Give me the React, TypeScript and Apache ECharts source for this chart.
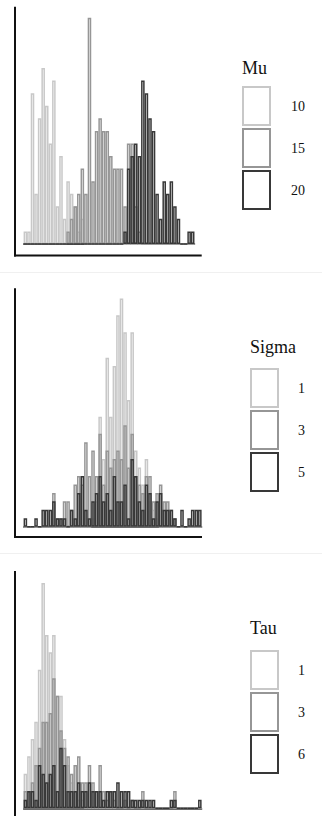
import React, { useEffect, useRef } from "react";
import * as echarts from "echarts";

// ---------- data (bin counts) ----------
const MU_TITLE = "Mu";
const MU_LABELS = ["10", "15", "20"];
const MU_10 = [1,1,12,4,10,14,11,8,13,3,7,2,5,4,3,1,2,0,0,0,0,0,0,0,0,0,0,0,0,0,0,0,0,0,0,0,0,0,0,0,0,0,0,0,0,0,0,0];
const MU_15 = [0,0,0,0,0,0,0,0,0,0,0,0,1,2,3,4,6,4,18,5,9,10,9,9,7,6,6,6,3,8,8,3,1,0,0,0,0,0,0,0,0,0,0,0,0,0,0,0];
const MU_20 = [0,0,0,0,0,0,0,0,0,0,0,0,0,0,0,0,0,0,0,0,0,0,0,0,0,0,0,0,1,6,7,8,7,13,12,10,9,4,2,5,4,5,3,2,0,0,1,1];

const SIGMA_TITLE = "Sigma";
const SIGMA_LABELS = ["1", "3", "5"];
const SIGMA_1 = [0,0,0,0,0,0,0,0,0,0,0,0,0,0,0,0,0,0,0,1,3,13,8,20,13,19,25,27,23,15,23,9,7,5,8,3,2,1,0,0,0,0,0,0,0,0,0,0,0,0];
const SIGMA_3 = [0,0,0,0,0,0,0,0,4,1,1,3,3,2,5,6,5,10,6,9,6,11,5,9,7,8,9,8,12,7,11,6,5,4,6,6,3,4,5,3,3,2,1,0,0,0,0,0,0,0];
const SIGMA_5 = [1,0,0,1,0,2,2,2,3,1,1,1,0,2,1,4,6,2,1,3,4,6,3,4,2,6,3,3,5,1,8,6,3,2,5,4,1,3,4,2,2,2,1,0,2,0,1,2,2,2];

const TAU_TITLE = "Tau";
const TAU_LABELS = ["1", "3", "6"];
const TAU_1 = [4,6,8,10,16,26,20,18,20,13,13,8,5,3,2,1,1,0,0,0,0,0,0,0,0,0,0,0,0,0,0,0,0,0,0,0,0,0,0,0,0,0,0,0,0,0,0,0,0,0];
const TAU_3 = [2,2,3,5,7,10,10,11,15,13,9,7,6,4,5,6,3,3,5,3,2,5,2,1,2,1,0,0,1,0,1,0,0,2,0,0,0,0,0,0,0,0,2,0,0,0,0,0,0,0];
const TAU_6 = [1,2,2,1,5,4,3,4,5,2,7,5,2,2,2,3,2,2,3,2,2,2,1,2,2,2,3,2,2,2,1,1,1,1,1,1,1,0,0,0,0,1,1,0,0,0,0,0,0,1];

const Y_MAX = [19, 28, 27];

const LIGHT = "#c8c8c8";
const MID = "#969696";
const DARK = "#383838";
const SERIF = "'Liberation Serif', 'DejaVu Serif', serif";

export default function App() {
  const ref = useRef<HTMLDivElement>(null);

  useEffect(() => {
    if (!ref.current) return;
    document.body.style.margin = "0";
    const chart = echarts.init(ref.current, undefined, { renderer: "svg" });

    const panels = [
      { title: MU_TITLE, labels: MU_LABELS, data: [MU_10, MU_15, MU_20] },
      { title: SIGMA_TITLE, labels: SIGMA_LABELS, data: [SIGMA_1, SIGMA_3, SIGMA_5] },
      { title: TAU_TITLE, labels: TAU_LABELS, data: [TAU_1, TAU_3, TAU_6] },
    ];
    const colors = [LIGHT, MID, DARK];
    const binW = 3.56;
    const left = 23.6;
    const grids = [
      { top: 5.2, bottom: 244 },
      { top: 290, bottom: 526.7 },
      { top: 574.3, bottom: 808.3 },
    ];
    const legendPos = [
      { left: 242, top: 86, titleTop: 59, textPad: 16 },
      { left: 250, top: 368, titleTop: 338, textPad: 15 },
      { left: 250, top: 650, titleTop: 619, textPad: 15 },
    ];

    const series: any[] = [];
    const xAxis: any[] = [];
    const yAxis: any[] = [];
    const grid: any[] = [];
    const legend: any[] = [];
    const title: any[] = [];

    panels.forEach((p, pi) => {
      const nb = p.data[0].length;
      grid.push({
        left,
        top: grids[pi].top,
        width: nb * binW,
        height: grids[pi].bottom - grids[pi].top,
        containLabel: false,
      });
      xAxis.push({
        type: "category",
        gridIndex: pi,
        data: p.data[0].map((_, i) => String(i)),
        boundaryGap: true,
        axisLine: { show: true, lineStyle: { color: "#3a3a3a", width: 1.5 } },
        axisTick: { show: false },
        axisLabel: { show: false },
        splitLine: { show: false },
      });
      yAxis.push({
        type: "value",
        gridIndex: pi,
        min: 0,
        max: Y_MAX[pi],
        show: false,
        splitLine: { show: false },
      });
      p.data.forEach((d, si) => {
        series.push({
          type: "bar",
          name: p.title + " " + p.labels[si],
          xAxisIndex: pi,
          yAxisIndex: pi,
          data: d,
          barCategoryGap: "0%",
          barGap: "-100%",
          silent: true,
          itemStyle: {
            color: "rgba(0,0,0,0)",
            borderColor: colors[si],
            borderWidth: 1.5,
          },
        });
      });
      legend.push({
        orient: "vertical",
        left: legendPos[pi].left,
        top: legendPos[pi].top,
        padding: 0,
        itemWidth: 27,
        itemHeight: 38,
        itemGap: 2,
        selectedMode: false,
        icon: "rect",
        data: p.labels.map((l, si) => ({
          name: p.title + " " + l,
          itemStyle: { color: "#ffffff", borderColor: colors[si], borderWidth: 2 },
        })),
        formatter: (name: string) => name.split(" ")[1],
        textStyle: {
          fontFamily: SERIF,
          fontSize: 14,
          color: "#111",
          padding: [0, 0, 0, legendPos[pi].textPad],
        },
      });
      title.push({
        text: p.title,
        left: legendPos[pi].left,
        top: legendPos[pi].titleTop,
        padding: 0,
        textStyle: {
          fontFamily: SERIF,
          fontSize: 18,
          fontWeight: "normal",
          color: "#111",
        },
      });
    });

    const spine = (x1: number, y1: number, x2: number, y2: number) => ({
      type: "line",
      shape: { x1, y1, x2, y2 },
      style: { stroke: "#111", lineWidth: 2 },
      silent: true,
    });
    const sep = (y: number) => ({
      type: "line",
      shape: { x1: 0, y1: y, x2: 322, y2: y },
      style: { stroke: "#f0f0f0", lineWidth: 1 },
      silent: true,
    });

    chart.setOption({
      animation: false,
      backgroundColor: "#ffffff",
      grid,
      xAxis,
      yAxis,
      series,
      legend,
      title,
      graphic: [
        spine(15, 6.7, 15, 256.5),
        spine(14, 255.5, 201.7, 255.5),
        spine(15, 288.3, 15, 538),
        spine(14, 537, 202, 537),
        spine(15, 571, 15, 816),
        sep(272.5),
        sep(553.5),
      ],
    });

    return () => chart.dispose();
  }, []);

  return (
    <div
      ref={ref}
      style={{ position: "absolute", left: 0, top: 0, width: 322, height: 816 }}
    />
  );
}
